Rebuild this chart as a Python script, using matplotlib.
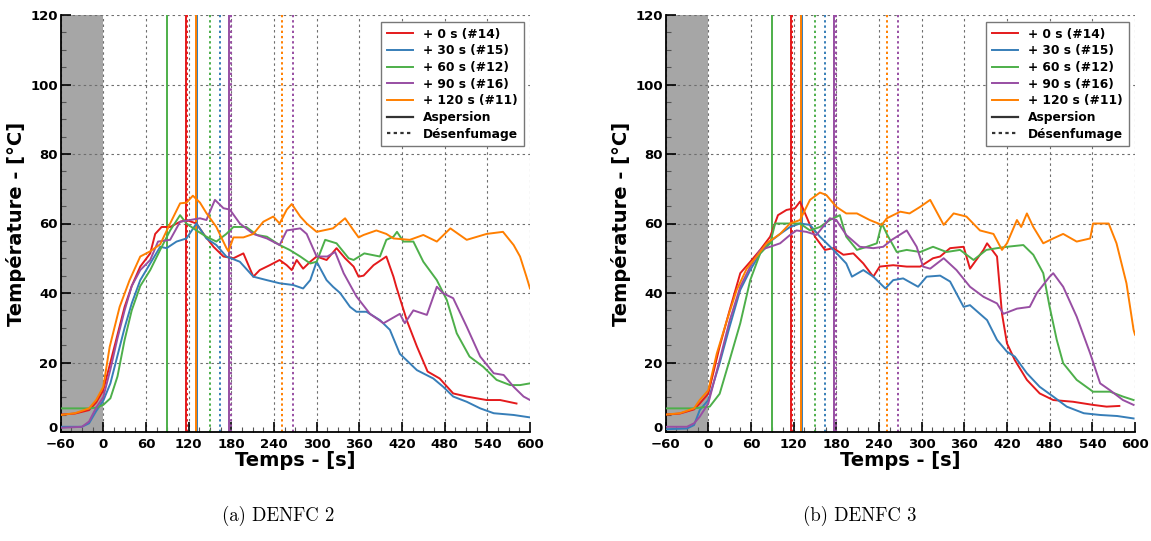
import matplotlib
matplotlib.use("Agg")
import matplotlib.pyplot as plt
import matplotlib.transforms as transforms
from matplotlib.lines import Line2D
from matplotlib.ticker import MultipleLocator

# ---- DENFC 2 : temperature curves (time [s], temperature [degC])
d2_red_t = [-60, -40, -20, -10, 0, 10, 20, 30, 40, 52, 66, 73, 82, 94, 108, 117, 131, 141, 155, 169, 183,
            197, 211, 220, 234, 248, 258, 265, 272, 281, 291, 300, 314, 328, 340, 352, 359, 366, 380, 398,
            408, 412, 427, 441, 456, 473, 492, 511, 539, 558, 581]
d2_red_T = [5.0, 5.3, 6.3, 8.5, 12, 20, 28, 36, 42, 47.6, 51.4, 57, 59, 59, 60.5, 61, 60, 57, 53.3, 50.5, 50,
            51.4, 44.7, 46.6, 48, 49.5, 48, 46.6, 49.5, 47, 49, 50.5, 49.5, 52.9, 50, 47.6, 44.7, 45, 48, 50.5,
            44.7, 41.8, 32, 24.6, 17.4, 15.4, 11.1, 10.2, 9.2, 9.2, 8.2]

d2_blue_t = [-60, -30, -20, -10, 0, 10, 20, 30, 40, 52, 66, 80, 89, 103, 117, 131, 145, 159, 173, 192, 211,
             230, 248, 267, 281, 291, 300, 314, 323, 333, 347, 356, 370, 389, 403, 417, 441, 464, 478, 492,
             511, 530, 549, 577, 600]
d2_blue_T = [1.5, 1.5, 2.5, 6, 9, 14, 22, 30, 37, 43.7, 48.5, 53.3, 52.9, 54.8, 55.7, 60, 55.7, 53.8, 50.5,
             49, 44.7, 43.7, 42.8, 42.3, 41.3, 43.7, 49, 43.7, 41.8, 40, 36, 34.6, 34.6, 32.2, 29.4, 22.5,
             17.8, 15.4, 13, 10.2, 8.7, 6.8, 5.4, 4.9, 4.2]

d2_green_t = [-60, -20, -10, 0, 10, 20, 30, 40, 52, 66, 80, 94, 108, 117, 131, 145, 159, 173, 183, 201, 216,
              230, 248, 262, 277, 291, 300, 312, 328, 345, 352, 367, 389, 398, 408, 413, 422, 436, 450, 469,
              483, 497, 515, 534, 553, 572, 586, 600]
d2_green_T = [6.8, 6.8, 7.0, 7.8, 9.7, 16, 26.5, 35, 42, 46.6, 52.4, 58, 62.4, 60, 58, 56.2, 54.8, 57, 59, 59,
              56.7, 56.2, 53.8, 52.4, 50.5, 48.5, 49, 55.3, 54.3, 50, 49.5, 51.4, 50.5, 55.3, 56.2, 57.6, 54.8,
              54.8, 49, 43.7, 38, 28.4, 21.7, 18.8, 15, 13.5, 13.5, 14]

d2_purple_t = [-60, -30, -20, -10, 0, 10, 20, 30, 40, 52, 66, 77, 94, 108, 122, 136, 145, 157, 169, 178, 192,
               211, 230, 248, 258, 277, 286, 300, 315, 326, 338, 356, 375, 394, 417, 424, 436, 455, 469, 478,
               492, 511, 530, 549, 563, 577, 591, 600]
d2_purple_T = [1.2, 1.5, 3, 7, 10, 18, 27, 35, 42, 46.6, 49.5, 54.8, 55.3, 60.5, 61, 61.5, 61, 66.8, 64.4,
               64, 60, 57, 55.7, 53.8, 58, 58.6, 57, 50.5, 50.5, 51.8, 45.7, 39, 34, 31.3, 34, 31.3, 35, 33.7,
               41.8, 39.9, 38.5, 30.3, 21.7, 16.9, 16.4, 13, 10.2, 9.2]

d2_orange_t = [-60, -40, -20, -10, 0, 9, 23, 37, 52, 66, 80, 94, 108, 117, 126, 136, 145, 159, 173, 176, 183,
               197, 211, 225, 239, 248, 258, 265, 277, 286, 300, 323, 340, 352, 359, 366, 384, 398, 408, 431,
               450, 469, 488, 511, 539, 562, 577, 586, 595, 600]
d2_orange_T = [4.9, 5.4, 6.8, 9.2, 13, 24.5, 36, 43.7, 50.5, 52, 54, 60, 65.8, 66, 68, 66, 63, 59, 53, 52, 56,
               56, 57, 60.5, 62, 60, 64, 65.6, 62, 60, 57.6, 58.6, 61.5, 58, 56, 56.7, 58, 57, 55.7, 55.3, 56.7,
               54.8, 58.6, 55.3, 57, 57.6, 53.8, 50.5, 44.7, 41.3]

# ---- DENFC 3
d3_red_t = [-60, -40, -20, -12, 0, 16, 30, 45, 59, 73, 87, 98, 110, 122, 129, 138, 150, 164, 176, 190, 204,
            218, 232, 241, 260, 279, 298, 316, 326, 340, 359, 368, 387, 392, 406, 413, 420, 431, 448, 466, 485,
            513, 541, 560, 578]
d3_red_T = [5.0, 5.3, 6.5, 8.2, 11, 24.6, 35, 45.7, 49, 52.4, 56.2, 62.4, 63.9, 64.4, 66.3, 62, 56.2, 52.4,
            52.9, 51, 51.4, 48.5, 44.7, 47.6, 48, 47.6, 47.6, 50, 50.5, 52.9, 53.3, 47, 52.4, 54.3, 50.5, 34,
            25.5, 20.7, 15, 11.1, 9.2, 8.7, 7.8, 7.3, 7.5]

d3_blue_t = [-60, -30, -20, -12, 0, 16, 30, 45, 59, 73, 87, 101, 115, 129, 143, 157, 176, 194, 202, 218, 232,
             249, 260, 274, 295, 307, 326, 340, 359, 368, 392, 406, 420, 431, 448, 466, 485, 504, 528, 551,
             575, 598]
d3_blue_T = [0.8, 1.0, 2.0, 6.3, 9.2, 19.8, 30.3, 40.9, 46.6, 51.4, 54.8, 57, 59, 60, 59.6, 56.2, 52.4, 48.5,
             44.7, 46.6, 44.7, 41.3, 43.7, 44.2, 41.8, 44.7, 45, 43.3, 36, 36.5, 32.2, 26.5, 23.1, 21.7, 16.9,
             13, 10.2, 7.3, 5.4, 4.9, 4.6, 3.9]

d3_green_t = [-60, -20, -12, 2, 16, 30, 45, 59, 73, 87, 94, 110, 129, 143, 157, 171, 185, 194, 209, 223, 237,
              244, 251, 265, 279, 298, 316, 335, 354, 373, 391, 406, 420, 443, 457, 471, 480, 490, 499, 518,
              541, 565, 583, 598]
d3_green_T = [6.8, 6.8, 7.0, 7.3, 11, 20.7, 31.3, 43.7, 51.4, 54.3, 60, 60, 60, 58, 59, 61, 62.4, 56.2, 52.4,
              53.3, 54.3, 60, 57, 51.8, 52.4, 51.8, 53.3, 51.8, 52.4, 49.5, 52.4, 52.9, 53.3, 53.8, 51, 45.7,
              36, 26.5, 19.8, 15, 11.6, 11.6, 10.2, 9.2]

d3_purple_t = [-60, -30, -20, -12, 0, 16, 30, 45, 59, 73, 87, 101, 115, 124, 138, 152, 171, 180, 194, 213,
               232, 246, 258, 279, 293, 302, 312, 331, 349, 368, 387, 406, 415, 434, 452, 462, 480, 485, 499,
               518, 537, 551, 565, 583, 598]
d3_purple_T = [1.5, 1.5, 2.5, 4.4, 8.2, 20.7, 32, 41.8, 47.6, 52.4, 53.3, 54.3, 56.7, 58, 57.6, 56.7, 61.5,
               61, 56.7, 53.3, 52.9, 53.3, 55.3, 58, 53.3, 47.6, 47, 50, 46.6, 41.8, 38.9, 37, 34, 35.5, 36, 40,
               44.7, 45.7, 41.8, 33.2, 22.6, 14, 12, 9.2, 7.8]

d3_orange_t = [-60, -40, -20, -12, 0, 12, 26, 40, 54, 68, 82, 101, 115, 129, 143, 157, 166, 180, 194, 209,
               227, 244, 251, 270, 283, 298, 312, 331, 345, 363, 382, 401, 413, 420, 434, 440, 448, 457, 471,
               485, 499, 518, 537, 541, 563, 574, 588, 598, 600]
d3_orange_T = [5.0, 5.4, 6.8, 9.2, 12, 22.6, 32, 40.9, 47, 50.5, 54.3, 57, 60, 61, 66.8, 68.9, 68.2, 64.8,
               62.9, 62.9, 61, 59.6, 61.5, 63.4, 62.9, 64.8, 66.8, 59.6, 62.9, 62, 58, 57, 52.4, 54.3, 61, 59,
               62.9, 59, 54.3, 55.7, 57, 54.8, 55.7, 60, 60, 54.3, 42.8, 29.4, 28]

# ---- event times (same for both tests): aspersion (solid) / desenfumage (dotted)
series_labels = ["+ 0 s (#14)", "+ 30 s (#15)", "+ 60 s (#12)", "+ 90 s (#16)", "+ 120 s (#11)"]
series_colors = ["#e41a1c", "#377eb8", "#4daf4a", "#984ea3", "#ff7f00"]
aspersion_t = [116, 132, 89, 177, 130]
desenfumage_t = [[118], [164], [150], [179, 267], [252]]

captions = ["(a) DENFC 2", "(b) DENFC 3"]

panels = [
    [(d2_red_t, d2_red_T), (d2_blue_t, d2_blue_T), (d2_green_t, d2_green_T),
     (d2_purple_t, d2_purple_T), (d2_orange_t, d2_orange_T)],
    [(d3_red_t, d3_red_T), (d3_blue_t, d3_blue_T), (d3_green_t, d3_green_T),
     (d3_purple_t, d3_purple_T), (d3_orange_t, d3_orange_T)],
]

W, H = 1151, 541
fig = plt.figure(figsize=(W / 100, H / 100), dpi=100)

axes_left_px = [60.6, 665.6]
caption_x_px = [278, 860]
ax_w = (530 - 60.6) / W
ax_b = 1 - 432 / H
ax_h = (432 - 15) / H

# nudge the "0" y tick label up so it does not sit on the "-60" x tick label
zero_shift = transforms.ScaledTranslation(0, 5 / 100, fig.dpi_scale_trans)

for k, curves in enumerate(panels):
    ax = fig.add_axes([axes_left_px[k] / W, ax_b, ax_w, ax_h])
    ax.set_axisbelow(True)
    ax.axvspan(-60, 0, color="#a6a6a6", lw=0, zorder=0.3)

    for (t, T), c in zip(curves, series_colors):
        ax.plot(t, T, color=c, lw=1.4, zorder=3)

    for i, c in enumerate(series_colors):
        ax.axvline(aspersion_t[i], color=c, lw=1.4, zorder=2)
        for td in desenfumage_t[i]:
            ax.axvline(td, color=c, lw=1.4, ls=(0, (1.2, 1.5)), zorder=2)

    ax.set_xlim(-60, 600)
    ax.set_ylim(0, 120)
    ax.xaxis.set_major_locator(MultipleLocator(60))
    ax.xaxis.set_minor_locator(MultipleLocator(15))
    ax.yaxis.set_major_locator(MultipleLocator(20))
    ax.yaxis.set_minor_locator(MultipleLocator(5))
    ax.grid(True, which="major", color="#6e6e6e", ls=(0, (2.2, 2.8)), lw=0.8)

    for s in ["top", "right"]:
        ax.spines[s].set_visible(False)
    for s in ["left", "bottom"]:
        ax.spines[s].set_linewidth(1.3)

    ax.tick_params(which="both", direction="in", top=False, right=False, labelsize=9.5)
    ax.tick_params(axis="x", pad=4)
    ax.tick_params(axis="y", pad=2)
    ax.tick_params(which="major", length=7, width=1.2)
    ax.tick_params(which="minor", length=3.5, width=0.8, color="#555555")
    ax.set_xticks(range(-60, 601, 60))
    ax.set_xticklabels([str(v).replace("-", "\u2212") for v in range(-60, 601, 60)], fontweight="bold")
    ax.set_yticks(range(0, 121, 20))
    ax.set_yticklabels([str(v) for v in range(0, 121, 20)], fontweight="bold")
    ylab0 = ax.get_yticklabels()[0]
    ylab0.set_transform(ylab0.get_transform() + zero_shift)

    ax.set_xlabel("Temps - [s]", fontsize=14, fontweight="bold", labelpad=0)
    ax.set_ylabel("Température - [°C]", fontsize=14, fontweight="bold", labelpad=3)

    handles = [Line2D([], [], color=c, lw=1.4) for c in series_colors]
    handles += [Line2D([], [], color="#333333", lw=1.6),
                Line2D([], [], color="#333333", lw=1.6, ls=(0, (1.5, 1.5)))]
    labels = series_labels + ["Aspersion", "Désenfumage"]
    leg = ax.legend(handles, labels, loc="upper right", bbox_to_anchor=(0.987, 0.983),
                    borderaxespad=0, prop={"weight": "bold", "size": 8.8}, fancybox=False,
                    framealpha=1, edgecolor="#777777", handlelength=2.2, labelspacing=0.3,
                    borderpad=0.45)
    leg.get_frame().set_linewidth(1.0)

    fig.text(caption_x_px[k] / W, 1 - 516 / H, captions[k], ha="center", va="center",
             fontsize=13.5, family="cmr10")

fig.savefig("out.png", dpi=100)
